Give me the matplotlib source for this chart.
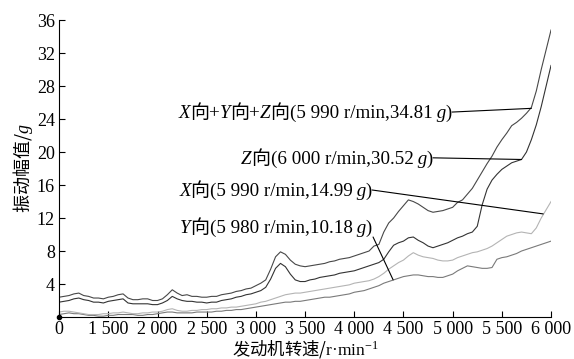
import numpy as np
import matplotlib
matplotlib.use('Agg')
import matplotlib.pyplot as plt
from matplotlib.offsetbox import TextArea, HPacker, AnnotationBbox

plt.rcParams['font.family'] = ['Liberation Serif', 'Noto Sans CJK SC']
plt.rcParams['mathtext.fontset'] = 'custom'
plt.rcParams['mathtext.rm'] = 'Liberation Serif'
plt.rcParams['mathtext.it'] = 'Liberation Serif:italic'

# 转速 (r/min), 50 r/min 间隔
rpm = np.arange(1000, 6001, 50)

# X向+Y向+Z向
amp_xyz = [2.4, 2.5, 2.6, 2.8, 2.9, 2.6, 2.5, 2.3, 2.3, 2.2,
           2.4, 2.5, 2.7, 2.8, 2.3, 2.1, 2.1, 2.2, 2.2, 2.0,
           2.0, 2.2, 2.7, 3.3, 2.9, 2.6, 2.7, 2.5, 2.5, 2.4,
           2.4, 2.5, 2.5, 2.7, 2.8, 2.9, 3.1, 3.2, 3.4, 3.5,
           3.8, 4.1, 4.5, 5.8, 7.3, 7.9, 7.6, 6.9, 6.4, 6.2,
           6.1, 6.2, 6.3, 6.4, 6.5, 6.7, 6.8, 7.0, 7.1, 7.2,
           7.4, 7.6, 7.8, 8.0, 8.6, 8.8, 10.3, 11.4, 12.0, 12.8,
           13.5, 14.2, 14.0, 13.7, 13.3, 12.9, 12.7, 12.8, 12.9, 13.1,
           13.3, 13.9, 14.2, 14.9, 15.6, 16.6, 17.6, 18.6, 19.5, 20.6,
           21.5, 22.3, 23.2, 23.6, 24.1, 24.7, 25.4, 27.4, 30.0, 32.4,
           34.8]

# Z向
amp_z = [1.8, 1.9, 2.0, 2.2, 2.3, 2.1, 2.0, 1.8, 1.8, 1.7,
         1.9, 2.0, 2.1, 2.2, 1.7, 1.6, 1.6, 1.6, 1.6, 1.5,
         1.5, 1.7, 2.0, 2.5, 2.2, 2.0, 1.9, 1.9, 1.8, 1.8,
         1.7, 1.8, 1.8, 2.0, 2.1, 2.2, 2.4, 2.5, 2.7, 2.8,
         3.0, 3.2, 3.6, 4.6, 5.9, 6.5, 6.1, 5.2, 4.5, 4.3,
         4.3, 4.5, 4.6, 4.8, 4.9, 5.0, 5.1, 5.3, 5.4, 5.5,
         5.6, 5.8, 6.0, 6.2, 6.4, 6.6, 7.0, 7.9, 8.7, 9.0,
         9.2, 9.6, 9.7, 9.3, 9.0, 8.6, 8.4, 8.6, 8.8, 9.0,
         9.3, 9.6, 9.8, 10.1, 10.3, 11.0, 13.6, 15.5, 16.6, 17.3,
         17.9, 18.3, 18.7, 18.9, 19.1, 20.0, 21.5, 23.3, 25.5, 28.0,
         30.5]

# X向
amp_x = [0.6, 0.7, 0.7, 0.6, 0.5, 0.4, 0.3, 0.3, 0.3, 0.4,
         0.4, 0.5, 0.5, 0.6, 0.5, 0.4, 0.4, 0.5, 0.5, 0.6,
         0.6, 0.7, 0.9, 1.0, 0.8, 0.7, 0.7, 0.8, 0.8, 0.9,
         0.9, 1.0, 1.0, 1.1, 1.1, 1.2, 1.2, 1.3, 1.4, 1.5,
         1.6, 1.8, 1.9, 2.1, 2.3, 2.5, 2.7, 2.8, 2.9, 2.9,
         3.0, 3.1, 3.2, 3.3, 3.4, 3.5, 3.6, 3.7, 3.8, 3.9,
         4.1, 4.2, 4.3, 4.4, 4.6, 4.9, 5.3, 5.8, 6.2, 6.6,
         6.9, 7.4, 7.8, 7.5, 7.3, 7.2, 7.1, 6.9, 6.8, 6.8,
         6.9, 7.2, 7.4, 7.6, 7.8, 7.9, 8.1, 8.3, 8.6, 9.0,
         9.4, 9.8, 10.0, 10.2, 10.3, 10.2, 10.1, 10.8, 12.0, 13.0,
         14.0]

# Y向
amp_y = [0.3, 0.4, 0.5, 0.4, 0.4, 0.3, 0.2, 0.2, 0.1, 0.1,
         0.2, 0.2, 0.3, 0.3, 0.3, 0.3, 0.2, 0.2, 0.3, 0.3,
         0.4, 0.5, 0.6, 0.6, 0.5, 0.5, 0.5, 0.5, 0.6, 0.6,
         0.6, 0.6, 0.7, 0.7, 0.8, 0.8, 0.9, 0.9, 1.0, 1.1,
         1.2, 1.3, 1.4, 1.5, 1.6, 1.7, 1.8, 1.8, 1.9, 1.9,
         2.0, 2.1, 2.2, 2.3, 2.4, 2.4, 2.5, 2.6, 2.7, 2.8,
         3.0, 3.1, 3.2, 3.4, 3.6, 3.8, 4.1, 4.3, 4.5, 4.7,
         4.9, 5.0, 5.1, 5.1, 5.0, 4.9, 4.9, 4.8, 4.8, 5.0,
         5.2, 5.6, 5.9, 6.2, 6.1, 6.0, 5.9, 5.9, 6.0, 7.0,
         7.2, 7.3, 7.5, 7.7, 8.0, 8.2, 8.4, 8.6, 8.8, 9.0,
         9.2]

x_ticks = [1000, 1500, 2000, 2500, 3000, 3500, 4000, 4500, 5000, 5500, 6000]
x_labels = ['0', '1 500', '2 000', '2 500', '3 000', '3 500', '4 000',
            '4 500', '5 000', '5 500', '6 000']
y_ticks = [4, 8, 12, 16, 20, 24, 28, 32, 36]

fig = plt.figure(figsize=(5.74, 3.59), dpi=100)
ax = fig.add_axes([0.103, 0.117, 0.857, 0.827])

ax.plot(rpm, amp_y, color='#7a7a7a', lw=0.8)
ax.plot(rpm, amp_x, color='#b4b4b4', lw=0.8)
ax.plot(rpm, amp_z, color='#333333', lw=0.8)
ax.plot(rpm, amp_xyz, color='#484848', lw=0.8)

ax.set_xlim(1000, 6000)
ax.set_ylim(0, 36)
ax.set_xticks(x_ticks)
ax.set_xticklabels(x_labels)
ax.set_yticks(y_ticks)
ax.tick_params(direction='in', length=4, width=0.8, labelsize=13, pad=3)
for s in ['top', 'right']:
    ax.spines[s].set_visible(False)
ax.plot([0], [0], 'ko', ms=3, transform=ax.transAxes, clip_on=False)

ax.set_xlabel('发动机转速/$\\mathrm{r·min}^{-1}$', fontsize=12.5,
              family='Noto Sans CJK SC')
ax.xaxis.set_label_coords(0.5, -0.072)
ax.set_ylabel('振动幅值/$g$', fontsize=13, family='Noto Sans CJK SC', labelpad=1)

FS = 13.7


def rich_label(x, y, parts):
    boxes = []
    for s, it in parts:
        if it:
            props = dict(family=['Liberation Serif'], style='italic', size=FS)
        else:
            props = dict(family=['Liberation Serif', 'Noto Sans CJK SC'], size=FS)
        boxes.append(TextArea(s, textprops=props))
    pack = HPacker(children=boxes, align='baseline', pad=0, sep=0)
    ab = AnnotationBbox(pack, (x, y), xycoords='data', box_alignment=(1, 0.5),
                        frameon=False, pad=0)
    ax.add_artist(ab)


def leader(x0, y0, x1, y1):
    ax.annotate('', xy=(x1, y1), xytext=(x0, y0),
                arrowprops=dict(arrowstyle='-', color='black', lw=0.8,
                                shrinkA=0, shrinkB=0))


rich_label(4994, 24.85, [('X', True), ('向+', False), ('Y', True), ('向+', False),
                         ('Z', True), ('向(5 990 r/min,34.81', False), ('\u2009g', True), (')', False)])
leader(4994, 24.85, 5800, 25.3)

rich_label(4801, 19.3, [('Z', True), ('向(6 000 r/min,30.52', False), ('\u2009g', True), (')', False)])
leader(4801, 19.3, 5700, 19.1)

rich_label(4181, 15.4, [('X', True), ('向(5 990 r/min,14.99', False), ('\u2009g', True), (')', False)])
leader(4181, 15.4, 5920, 12.5)

rich_label(4181, 10.9, [('Y', True), ('向(5 980 r/min,10.18', False), ('\u2009g', True), (')', False)])
leader(4191, 9.7, 4395, 4.5)

fig.savefig('out.png', dpi=100, facecolor='white')
